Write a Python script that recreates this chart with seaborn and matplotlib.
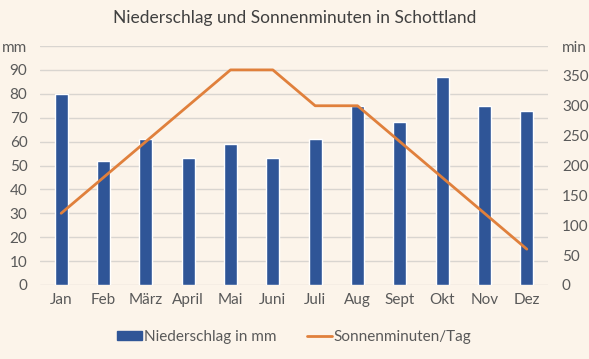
import matplotlib
matplotlib.use("Agg")
import matplotlib.pyplot as plt
import numpy as np
import pandas as pd
import seaborn as sns
from matplotlib.lines import Line2D
from matplotlib.patches import Patch

months = ["Jan", "Feb", "März", "April", "Mai", "Juni", "Juli", "Aug", "Sept", "Okt", "Nov", "Dez"]
rain_mm = [80, 52, 61, 53, 59, 53, 61, 75, 68, 87, 75, 73]
sun_min = [120, 180, 240, 300, 360, 360, 300, 300, 240, 180, 120, 60]
left_ticks = [0, 10, 20, 30, 40, 50, 60, 70, 80, 90]
right_ticks = [0, 50, 100, 150, 200, 250, 300, 350]

BG = "#FCF4EA"
BAR = "#2F5597"
LINE = "#E0803C"
GRID = "#D9D5D0"
TXT = "#595959"

df = pd.DataFrame({"month": months, "rain": rain_mm, "sun": sun_min,
                   "pos": np.arange(len(months))})

sns.set_theme(style="white")
plt.rcParams["font.family"] = ["Lato", "DejaVu Sans"]

fig = plt.figure(figsize=(5.89, 3.59), dpi=100, facecolor=BG)
ax = fig.add_axes([40 / 589, 1 - 285 / 359, 508 / 589, 239 / 359])
ax.set_facecolor(BG)

sns.barplot(data=df, x="month", y="rain", color=BAR, width=0.31,
            saturation=1, ax=ax, zorder=2)
ax.set_ylim(0, 100)
ax.set_xlim(-0.5, len(months) - 0.5)
ax.set_yticks(left_ticks + [100])
ax.set_yticklabels([str(t) for t in left_ticks] + ["mm"])
ax.yaxis.grid(True, color=GRID, linewidth=1, zorder=0)
ax.set_axisbelow(True)
ax.set_xlabel("")
ax.set_ylabel("")
for s in ax.spines.values():
    s.set_visible(False)
ax.tick_params(axis="both", length=0, labelsize=11, labelcolor=TXT)
ax.tick_params(axis="y", pad=9)
ax.tick_params(axis="x", pad=6)

ax2 = ax.twinx()
sns.lineplot(data=df, x="pos", y="sun", color=LINE, linewidth=2.0,
             ax=ax2, sort=False)
ax2.set_ylim(0, 400)
ax2.set_yticks(right_ticks + [400])
ax2.set_yticklabels([str(t) for t in right_ticks] + ["min"])
ax2.set_ylabel("")
for s in ax2.spines.values():
    s.set_visible(False)
ax2.tick_params(axis="y", length=0, labelsize=11, labelcolor=TXT, pad=10)

fig.text(0.5, 1 - 18 / 359, "Niederschlag und Sonnenminuten in Schottland",
         ha="center", va="center", fontsize=12.5, color="#404040")

handles = [Patch(facecolor=BAR, edgecolor=BAR),
           Line2D([0], [0], color=LINE, linewidth=2.0)]
fig.legend(handles, ["Niederschlag in mm", "Sonnenminuten/Tag"],
           loc="center", bbox_to_anchor=(0.5, 1 - 337 / 359), ncol=2,
           frameon=False, fontsize=11, labelcolor=TXT,
           handlelength=1.6, handleheight=0.5, handletextpad=0.15,
           columnspacing=2.0)

fig.savefig("out.png", dpi=100, facecolor=BG)
